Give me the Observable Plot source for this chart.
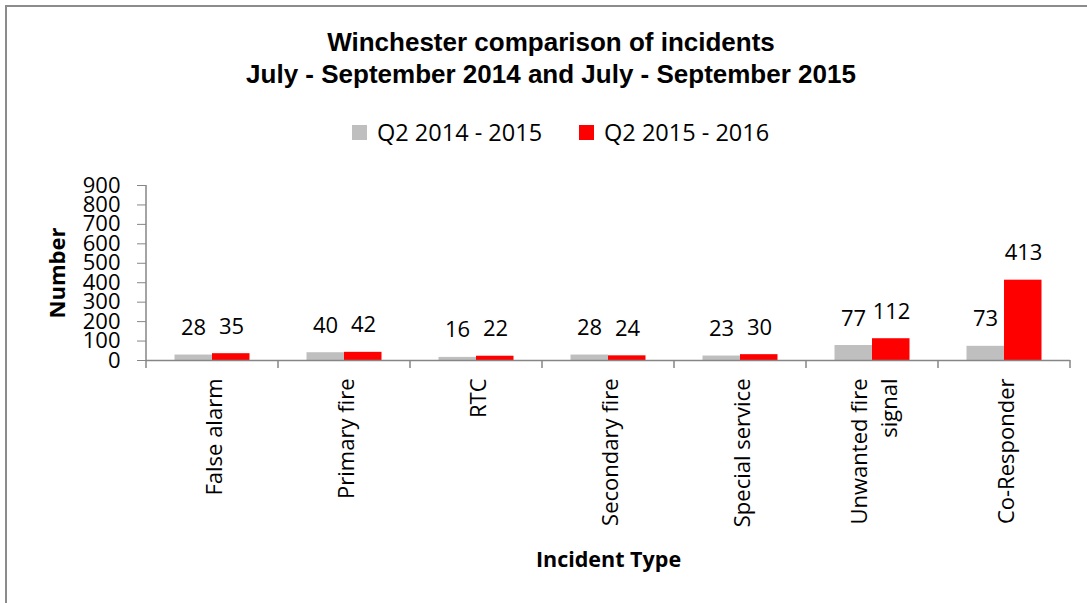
<!DOCTYPE html>
<html>
<head>
<meta charset="utf-8">
<script src="https://cdn.jsdelivr.net/npm/d3@7"></script>
<script src="https://cdn.jsdelivr.net/npm/@observablehq/plot@0.6"></script>
<style>
  html, body { margin: 0; padding: 0; background: #fff; }
  #wrap { position: relative; width: 1087px; height: 603px; overflow: hidden; background: #fff; }
  #frame { position: absolute; left: 5px; top: 5px; width: 1200px; height: 700px; border-left: 2px solid #8c8c8c; border-top: 2px solid #8c8c8c; box-sizing: border-box; }
  #title { position: absolute; left: 0; width: 1102px; top: 26px; text-align: center; font-family: "Liberation Sans", Arial, sans-serif; font-weight: bold; font-size: 26px; line-height: 32px; color: #000; }
  #legend { position: absolute; top: 116px; left: 352px; display: flex; align-items: center; font-family: "Open Sans", sans-serif; font-size: 23.5px; color: #000; }
  .sw { display: inline-block; width: 15px; height: 15px; margin-right: 10px; }
  .item { display: flex; align-items: center; margin-right: 37px; }
  #chart { position: absolute; left: 0; top: 170px; }
</style>
</head>
<body>
<div id="wrap">
  <div id="frame"></div>
  <div id="title"></div>
  <div id="legend"></div>
  <div id="chart"></div>
</div>
<script>
const categories = ["False alarm", "Primary fire", "RTC", "Secondary fire", "Special service", "Unwanted fire signal", "Co-Responder"];
const categoryLabels = ["False alarm", "Primary fire", "RTC", "Secondary fire", "Special service", "Unwanted fire\nsignal", "Co-Responder"];
const seriesNames = ["Q2 2014 - 2015", "Q2 2015 - 2016"];
const q2_2014_2015 = [28, 40, 16, 28, 23, 77, 73];
const q2_2015_2016 = [35, 42, 22, 24, 30, 112, 413];
const yTicks = [0, 100, 200, 300, 400, 500, 600, 700, 800, 900];
const titleLines = ["Winchester comparison of incidents", "July - September 2014 and July - September 2015"];
const seriesColors = ["#BFBFBF", "#FF0000"];

document.getElementById("title").innerHTML = titleLines.join("<br>");
const legend = document.getElementById("legend");
seriesNames.forEach((name, i) => {
  const it = document.createElement("span");
  it.className = "item";
  it.innerHTML = `<span class="sw" style="background:${seriesColors[i]}"></span><span>${name}</span>`;
  legend.appendChild(it);
});

const s1 = categories.map((c, i) => ({cat: c, v: q2_2014_2015[i]}));
const s2 = categories.map((c, i) => ({cat: c, v: q2_2015_2016[i]}));
const labels = categories.map((c, i) => ({cat: c, label: categoryLabels[i]}));
const axisColor = "#868686";

const plot = Plot.plot({
  width: 1087,
  height: 433,
  marginLeft: 146,
  marginRight: 17,
  marginTop: 15,
  marginBottom: 243,
  style: {fontFamily: "Open Sans, sans-serif", fontSize: "22px", background: "transparent", overflow: "visible", color: "#000"},
  x: {domain: categories, padding: 0, axis: null},
  y: {domain: [0, 900], axis: null},
  marks: [
    Plot.barY(s1, {x: "cat", y: "v", fill: seriesColors[0], insetLeft: 28.5, insetRight: 66}),
    Plot.barY(s2, {x: "cat", y: "v", fill: seriesColors[1], insetLeft: 66, insetRight: 28.5}),
    Plot.ruleY([0], {stroke: axisColor, strokeWidth: 1.5}),
    Plot.axisY({ticks: yTicks, tickSize: 9, tickPadding: 17, label: null, stroke: axisColor, fill: "#000", fontSize: 22, tickFormat: d => String(d)}),
    Plot.text(s1, {x: "cat", y: "v", text: d => String(d.v), dx: -19, dy: -27, lineAnchor: "middle", fontSize: 22, fill: "#000"}),
    Plot.text(s2, {x: "cat", y: "v", text: d => String(d.v), dx: 19, dy: -27, lineAnchor: "middle", fontSize: 22, fill: "#000"}),
    Plot.text(labels, {x: "cat", y: () => 0, text: "label", rotate: -90, textAnchor: "end", lineAnchor: "middle", lineHeight: 1.35, dy: 18, fontSize: 22, fill: "#000"}),
    Plot.text(["Number"], {frameAnchor: "left", text: d => d, rotate: -90, textAnchor: "middle", lineAnchor: "middle", dx: -89, fontWeight: "bold", fontSize: 22, fill: "#000"}),
    Plot.text(["Incident Type"], {frameAnchor: "bottom", text: d => d, textAnchor: "middle", lineAnchor: "middle", dy: 200, fontWeight: "bold", fontSize: 21.5, fill: "#000"})
  ]
});

// axis lines and category boundary ticks via the plot's own scales
const xs = plot.scale("x"), ys = plot.scale("y");
const svg = d3.select(plot.tagName === "svg" ? plot : plot.querySelector("svg"));
const y0 = ys.apply(0), yTop = ys.apply(yTicks[yTicks.length - 1]);
const bw = xs.bandwidth;
const x0 = xs.apply(categories[0]);
const bounds = categories.map(c => xs.apply(c)).concat([xs.apply(categories[categories.length - 1]) + bw]);
const g = svg.append("g").attr("stroke", axisColor).attr("stroke-width", 1.5);
g.append("line").attr("x1", x0).attr("x2", x0).attr("y1", y0).attr("y2", yTop);
bounds.forEach(b => g.append("line").attr("x1", b).attr("x2", b).attr("y1", y0).attr("y2", y0 + 8));

document.getElementById("chart").appendChild(plot);
</script>
</body>
</html>
